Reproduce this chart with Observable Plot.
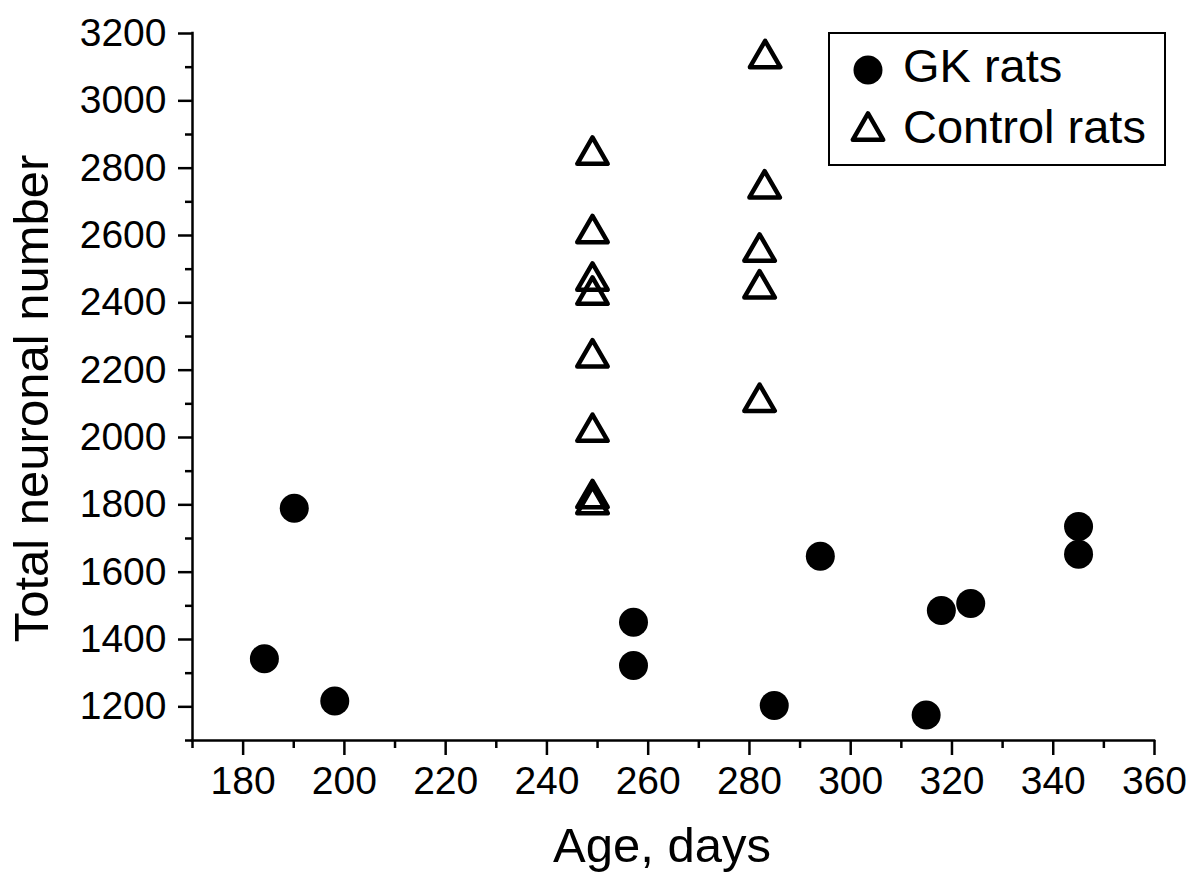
<!DOCTYPE html>
<html><head><meta charset="utf-8">
<script src="https://cdn.jsdelivr.net/npm/d3@7"></script>
<script src="https://cdn.jsdelivr.net/npm/@observablehq/plot@0.6"></script>
<style>
body{margin:0;background:#fff}
#chart{position:relative;width:1200px;height:882px}
</style>
</head><body><div id="chart"></div>
<script>
// GK rats (filled circles)
const gkAge     = [184.2, 190.1, 198.1, 257.1, 257.1, 284.9, 294.0, 314.9, 317.9, 323.7, 345.0, 345.0];
const gkNeurons = [1343, 1790, 1217, 1451, 1323, 1204, 1647, 1176, 1486, 1507, 1736, 1653];
// Control rats (open triangles)
const ctrlAge     = [249, 249, 249, 249, 249, 249, 249, 249, 283.1, 283.0, 282.0, 282.0, 282.0];
const ctrlNeurons = [2851, 2618, 2477, 2435, 2249, 2028, 1831, 1813, 3138, 2751, 2563, 2454, 2117];
// axis ticks
const xTicks = [180, 200, 220, 240, 260, 280, 300, 320, 340, 360];
const xMinor = [170, 190, 210, 230, 250, 270, 290, 310, 330, 350];
const yTicks = [1200, 1400, 1600, 1800, 2000, 2200, 2400, 2600, 2800, 3000, 3200];
const yMinor = [1100, 1300, 1500, 1700, 1900, 2100, 2300, 2500, 2700, 2900, 3100];
const seriesNames = ["GK rats", "Control rats"];
const xTitle = "Age, days";
const yTitle = "Total neuronal number";

const gk = gkAge.map((a, i) => ({age: a, n: gkNeurons[i]}));
const ctrl = ctrlAge.map((a, i) => ({age: a, n: ctrlNeurons[i]}));

const FONT = "'Liberation Sans', Arial, sans-serif";

const plot = Plot.plot({
  width: 1200,
  height: 882,
  marginLeft: 192,
  marginRight: 46,
  marginTop: 33,
  marginBottom: 142,
  style: {fontFamily: FONT, background: "white", color: "black"},
  x: {domain: [170, 360]},
  y: {domain: [1100, 3200]},
  marks: [
    Plot.axisX(xTicks, {tickSize: 15, tickPadding: 11, fontSize: 39, strokeWidth: 2.5, label: null, tickFormat: d => String(d)}),
    Plot.axisX(xMinor, {tickSize: 8, text: null, strokeWidth: 2.5, label: null}),
    Plot.axisY(yTicks, {tickSize: 14, tickPadding: 12, fontSize: 39, strokeWidth: 2.5, label: null, tickFormat: d => String(d)}),
    Plot.axisY(yMinor, {tickSize: 7, text: null, strokeWidth: 2.5, label: null}),
    Plot.ruleY([1100], {strokeWidth: 2.5, strokeLinecap: "square"}),
    Plot.ruleX([170], {strokeWidth: 2.5, strokeLinecap: "square"}),
    Plot.dot(gk, {x: "age", y: "n", r: 14.5, fill: "black", stroke: null}),
    Plot.dot(ctrl, {x: "age", y: "n", symbol: "triangle", r: 11.3, fill: "none", stroke: "black", strokeWidth: 4.5, strokeLinejoin: "round", dy: 4})
  ]
});

document.getElementById("chart").appendChild(plot);

const svg = d3.select(plot);
const xr = plot.scale("x").range;
const yr = plot.scale("y").range;

svg.append("text")
  .attr("x", (xr[0] + xr[1]) / 2 - 11)
  .attr("y", 862)
  .attr("text-anchor", "middle")
  .style("font-family", FONT).style("font-size", "49px").attr("fill", "black")
  .text(xTitle);

svg.append("text")
  .attr("transform", `translate(48,${(yr[0] + yr[1]) / 2 + 12}) rotate(-90)`)
  .attr("text-anchor", "middle")
  .style("font-family", FONT).style("font-size", "49px").attr("fill", "black")
  .text(yTitle);

// legend
const lg = svg.append("g");
lg.append("rect").attr("x", 829).attr("y", 33).attr("width", 336).attr("height", 132)
  .attr("fill", "white").attr("stroke", "black").attr("stroke-width", 2);
lg.append("path").attr("transform", "translate(868,70)")
  .attr("d", d3.symbol(d3.symbolCircle, Math.PI * 14.5 * 14.5)()).attr("fill", "black");
lg.append("path").attr("transform", "translate(868,131)")
  .attr("d", d3.symbol(d3.symbolTriangle, Math.PI * 11.3 * 11.3)())
  .attr("fill", "none").attr("stroke", "black").attr("stroke-width", 4.5).attr("stroke-linejoin", "round");
lg.append("text").attr("x", 903).attr("y", 82).attr("text-anchor", "start")
  .style("font-family", FONT).style("font-size", "47px").attr("fill", "black").text(seriesNames[0]);
lg.append("text").attr("x", 903).attr("y", 143).attr("text-anchor", "start")
  .style("font-family", FONT).style("font-size", "47px").attr("fill", "black").text(seriesNames[1]);
</script>
</body></html>
